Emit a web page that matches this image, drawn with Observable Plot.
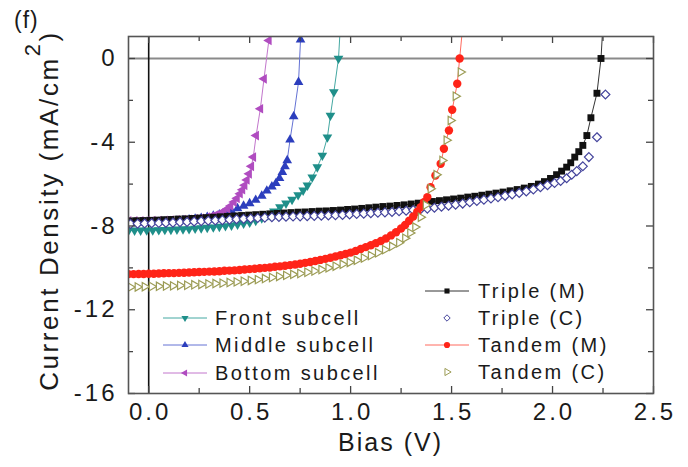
<!DOCTYPE html>
<html><head><meta charset="utf-8">
<script src="https://cdn.jsdelivr.net/npm/d3@7"></script>
<script src="https://cdn.jsdelivr.net/npm/@observablehq/plot@0.6"></script>
<style>
html,body{margin:0;padding:0;background:#fff;}
#chart{position:relative;width:688px;height:467px;}
</style></head><body><div id="chart"></div>
<script>
// ---------- data ----------
const xMajor = [0, 0.5, 1.0, 1.5, 2.0, 2.5];
const xMinor = [0.25, 0.75, 1.25, 1.75, 2.25];
const yMajor = [0, -4, -8, -12, -16];
const yMinor = [-2, -6, -10, -14];

const frontV = [-0.10,-0.07,-0.04,-0.01,0.02,0.05,0.08,0.11,0.14,0.17,0.20,0.23,0.26,0.29,0.32,0.35,0.38,0.41,0.44,0.47,0.50,0.53,0.56,0.59,0.62,0.65,0.68,0.71,0.74,0.765,0.786,0.81,0.835,0.86,0.885,0.90,0.917,0.94,0.955];
const frontJ = [-8.22,-8.21,-8.21,-8.20,-8.20,-8.19,-8.18,-8.17,-8.16,-8.15,-8.14,-8.12,-8.10,-8.08,-8.06,-8.03,-8.00,-7.97,-7.93,-7.88,-7.83,-7.74,-7.62,-7.48,-7.30,-7.10,-6.92,-6.74,-6.52,-6.30,-6.06,-5.67,-5.19,-4.63,-3.76,-2.72,-1.60,0.00,2.50];

const middleV = [-0.10,-0.07,-0.04,-0.01,0.02,0.05,0.08,0.11,0.14,0.17,0.20,0.23,0.26,0.29,0.32,0.35,0.38,0.41,0.44,0.47,0.50,0.53,0.56,0.585,0.61,0.63,0.648,0.662,0.675,0.686,0.70,0.718,0.742,0.752,0.762];
const middleJ = [-7.86,-7.85,-7.84,-7.83,-7.82,-7.81,-7.80,-7.78,-7.76,-7.73,-7.70,-7.66,-7.62,-7.57,-7.51,-7.45,-7.38,-7.28,-7.16,-7.04,-6.92,-6.76,-6.56,-6.32,-6.12,-5.96,-5.72,-5.43,-5.16,-4.87,-3.88,-2.77,-1.13,0.90,2.50];

const bottomV = [-0.10,-0.07,-0.04,-0.01,0.02,0.05,0.08,0.11,0.14,0.17,0.20,0.23,0.26,0.29,0.31,0.33,0.355,0.372,0.39,0.405,0.422,0.437,0.452,0.464,0.475,0.486,0.497,0.508,0.518,0.532,0.553,0.571,0.595,0.61];
const bottomJ = [-7.76,-7.76,-7.75,-7.75,-7.74,-7.74,-7.73,-7.72,-7.71,-7.70,-7.68,-7.66,-7.63,-7.58,-7.54,-7.48,-7.39,-7.30,-7.18,-7.04,-6.86,-6.68,-6.46,-6.27,-6.06,-5.80,-5.51,-5.15,-4.71,-3.68,-2.40,-0.97,0.86,2.50];

const tripleMV = [-0.100,-0.065,-0.030,0.005,0.040,0.075,0.110,0.145,0.180,0.215,
  0.250,0.285,0.320,0.355,0.390,0.425,0.460,0.495,0.530,0.565,
  0.600,0.635,0.670,0.705,0.740,0.775,0.810,0.845,0.880,0.915,
  0.950,0.985,1.020,1.055,1.090,1.125,1.160,1.195,1.230,1.265,
  1.300,1.335,1.370,1.405,1.440,1.475,1.510,1.545,1.580,1.615,
  1.650,1.685,1.720,1.755,1.790,1.825,1.860,1.895,1.930,1.960,
  1.990,2.020,2.045,2.070,2.090,2.110,2.130,2.150,2.170,2.190,
  2.220,2.240,2.255];
const tripleMJ = [-7.76,-7.75,-7.74,-7.73,-7.72,-7.70,-7.69,-7.67,-7.66,-7.64,
  -7.62,-7.60,-7.58,-7.56,-7.54,-7.52,-7.50,-7.48,-7.46,-7.44,
  -7.42,-7.40,-7.38,-7.36,-7.34,-7.33,-7.31,-7.29,-7.28,-7.26,
  -7.24,-7.21,-7.19,-7.16,-7.13,-7.10,-7.07,-7.05,-7.02,-6.99,
  -6.95,-6.91,-6.87,-6.83,-6.79,-6.75,-6.71,-6.67,-6.62,-6.58,
  -6.53,-6.48,-6.43,-6.38,-6.32,-6.26,-6.19,-6.11,-6.00,-5.88,
  -5.73,-5.55,-5.38,-5.19,-4.98,-4.71,-4.45,-4.15,-3.68,-2.83,
  -1.66,0.00,2.50];

const tripleCV = [-0.090,-0.055,-0.020,0.015,0.050,0.085,0.120,0.155,0.190,0.225,
  0.260,0.295,0.330,0.365,0.400,0.435,0.470,0.505,0.540,0.575,
  0.610,0.645,0.680,0.715,0.750,0.785,0.820,0.855,0.890,0.925,
  0.960,0.995,1.030,1.065,1.100,1.135,1.170,1.205,1.240,1.275,
  1.310,1.345,1.380,1.415,1.450,1.485,1.520,1.555,1.590,1.625,
  1.660,1.695,1.730,1.765,1.800,1.835,1.870,1.905,1.940,1.975,
  2.010,2.040,2.070,2.095,2.120,2.150,2.180,2.220,2.262];
const tripleCJ = [-7.90,-7.89,-7.88,-7.87,-7.86,-7.85,-7.84,-7.82,-7.81,-7.79,
  -7.77,-7.75,-7.74,-7.72,-7.70,-7.68,-7.66,-7.64,-7.62,-7.60,
  -7.58,-7.57,-7.56,-7.55,-7.54,-7.53,-7.52,-7.51,-7.50,-7.49,
  -7.47,-7.45,-7.43,-7.41,-7.39,-7.37,-7.35,-7.33,-7.30,-7.27,
  -7.24,-7.21,-7.17,-7.13,-7.08,-7.03,-6.98,-6.93,-6.87,-6.81,
  -6.75,-6.69,-6.63,-6.56,-6.49,-6.42,-6.35,-6.26,-6.15,-6.05,
  -5.95,-5.85,-5.72,-5.55,-5.38,-5.15,-4.71,-3.76,-1.72];

const tandemMV = [-0.100,-0.075,-0.050,-0.025,0.000,0.025,0.050,0.075,0.100,0.125,
  0.150,0.175,0.200,0.225,0.250,0.275,0.300,0.325,0.350,0.375,
  0.400,0.425,0.450,0.475,0.500,0.525,0.550,0.575,0.600,0.625,
  0.650,0.675,0.700,0.725,0.750,0.775,0.800,0.825,0.850,0.875,
  0.900,0.925,0.950,0.975,1.000,1.025,1.050,1.075,1.100,1.125,
  1.150,1.175,1.200,1.225,1.250,1.270,1.290,1.310,1.330,1.347,
  1.363,1.380,1.396,1.420,1.446,1.462,1.487,1.503,1.528,1.540,1.565];
const tandemMJ = [-10.30,-10.30,-10.29,-10.29,-10.28,-10.28,-10.27,-10.26,-10.25,-10.25,
  -10.24,-10.23,-10.22,-10.21,-10.20,-10.19,-10.18,-10.17,-10.16,-10.14,
  -10.13,-10.12,-10.10,-10.08,-10.06,-10.04,-10.02,-10.00,-9.98,-9.95,
  -9.93,-9.90,-9.87,-9.84,-9.80,-9.76,-9.72,-9.67,-9.62,-9.57,
  -9.52,-9.46,-9.40,-9.34,-9.27,-9.19,-9.10,-9.01,-8.92,-8.82,
  -8.72,-8.60,-8.45,-8.30,-8.12,-7.95,-7.75,-7.55,-7.32,-7.10,
  -6.86,-6.62,-6.15,-5.59,-5.03,-4.31,-3.44,-2.45,-1.21,0.00,2.50];

const tandemCV = [-0.090,-0.055,-0.020,0.015,0.050,0.085,0.120,0.155,0.190,0.225,
  0.260,0.295,0.330,0.365,0.400,0.435,0.470,0.505,0.540,0.575,
  0.610,0.645,0.680,0.715,0.750,0.785,0.820,0.855,0.890,0.925,
  0.960,0.995,1.030,1.065,1.100,1.135,1.170,1.205,1.240,1.270,
  1.295,1.320,1.347,1.372,1.396,1.425,1.454,1.475,1.495,1.520,1.545];
const tandemCJ = [-10.92,-10.91,-10.90,-10.89,-10.88,-10.87,-10.86,-10.84,-10.83,-10.81,
  -10.79,-10.77,-10.75,-10.73,-10.70,-10.67,-10.64,-10.60,-10.56,-10.51,
  -10.46,-10.41,-10.36,-10.31,-10.27,-10.21,-10.15,-10.08,-10.00,-9.92,
  -9.83,-9.74,-9.64,-9.53,-9.41,-9.28,-9.13,-8.97,-8.80,-8.58,
  -8.33,-8.05,-7.58,-7.00,-6.22,-5.55,-4.87,-3.90,-2.96,-1.80,-0.65];

// ---------- symbols ----------
const sqrt3 = Math.sqrt(3);
function triangle(angle) {
  return {draw(ctx, size) {
    const y = -Math.sqrt(size / (sqrt3 * 3));
    const p = [[0, y * 2], [-sqrt3 * y, -y], [sqrt3 * y, -y]];
    const c = Math.cos(angle), s = Math.sin(angle);
    p.forEach(([a, b], i) => {
      const X = a * c - b * s, Y = a * s + b * c;
      if (i) ctx.lineTo(X, Y); else ctx.moveTo(X, Y);
    });
    ctx.closePath();
  }};
}
const triUp = triangle(0), triDown = triangle(Math.PI),
      triLeft = triangle(-Math.PI / 2), triRight = triangle(Math.PI / 2);

const rows = (V, J) => V.map((v, i) => ({v, j: J[i]})).filter(d => d.j !== undefined);

const series = [
  {name: "Front subcell", data: rows(frontV, frontJ), line: "#45a8a2", fill: "#1f8f8a", stroke: "none", symbol: triDown, r: 3.6, lsize: 22},
  {name: "Middle subcell", data: rows(middleV, middleJ), line: "#6472d4", fill: "#2c3ebd", stroke: "none", symbol: triUp, r: 3.6, lsize: 22},
  {name: "Bottom subcell", data: rows(bottomV, bottomJ), line: "#c276cc", fill: "#b04cc0", stroke: "none", symbol: triLeft, r: 3.6, lsize: 22},
  {name: "Triple (M)", data: rows(tripleMV, tripleMJ), line: "#333333", fill: "#111111", stroke: "none", symbol: "square", r: 3.9, lsize: 26},
  {name: "Triple (C)", data: rows(tripleCV, tripleCJ), line: null, fill: "white", stroke: "#44449c", symbol: "diamond2", r: 4, lsize: 26},
  {name: "Tandem (M)", data: rows(tandemMV, tandemMJ), line: "#ff6a5e", fill: "#ff2418", stroke: "none", symbol: "circle", r: 4.2, lsize: 30},
  {name: "Tandem (C)", data: rows(tandemCV, tandemCJ), line: null, fill: "white", stroke: "#9c9c55", symbol: triRight, r: 3.1, lsize: 22}
];

// ---------- plot ----------
const W = 688, H = 467, mL = 128, mR = 35, mT = 36, mB = 74;
const iw = W - mL - mR, ih = H - mT - mB;
const tickStyle = {stroke: "#444", strokeWidth: 1.3};

const marks = [
  Plot.ruleY([0], {stroke: "#8a8a8a", strokeWidth: 2.2}),
  Plot.ruleX([0], {stroke: "#111", strokeWidth: 1.6})
];
for (const s of series) {
  if (s.line) marks.push(Plot.line(s.data, {x: "v", y: "j", stroke: s.line, strokeWidth: 1, clip: true}));
}
for (const s of series) {
  marks.push(Plot.dot(s.data, {x: "v", y: "j", symbol: s.symbol, r: s.r, fill: s.fill,
    stroke: s.stroke, strokeWidth: s.stroke === "none" ? 0 : 1.2, clip: true}));
}
marks.push(
  Plot.tickX(xMajor, {x: d => d, insetTop: ih - 7, ...tickStyle}),
  Plot.tickX(xMinor, {x: d => d, insetTop: ih - 5, ...tickStyle}),
  Plot.tickX(xMajor, {x: d => d, insetBottom: ih - 7, ...tickStyle}),
  Plot.tickX(xMinor, {x: d => d, insetBottom: ih - 5, ...tickStyle}),
  Plot.tickY(yMajor, {y: d => d, insetRight: iw - 7, ...tickStyle}),
  Plot.tickY(yMinor, {y: d => d, insetRight: iw - 5, ...tickStyle}),
  Plot.tickY(yMajor, {y: d => d, insetLeft: iw - 7, ...tickStyle}),
  Plot.tickY(yMinor, {y: d => d, insetLeft: iw - 5, ...tickStyle}),
  Plot.frame({stroke: "#555", strokeWidth: 1.6}),
  Plot.axisX({ticks: xMajor, tickSize: 0, tickPadding: 9, tickFormat: d3.format(".1f"), dx: 1.5}),
  Plot.axisY({ticks: yMajor, tickSize: 0, tickPadding: 11, tickFormat: d => String(d)})
);

const chart = Plot.plot({
  width: W, height: H,
  marginLeft: mL, marginRight: mR, marginTop: mT, marginBottom: mB,
  x: {domain: [-0.1, 2.5], label: null},
  y: {domain: [-16, 1.05], label: null},
  style: {fontFamily: "'Liberation Sans', Arial, sans-serif", fontSize: "24px", letterSpacing: "3px", color: "#1a1a1a", background: "white", overflow: "visible"},
  marks
});
document.getElementById("chart").appendChild(chart);

// ---------- annotations & legend ----------
const svg = d3.select(chart);
svg.append("text").attr("x", 14).attr("y", 28).attr("text-anchor", "start").attr("font-size", 23)
  .attr("letter-spacing", "1px").attr("fill", "#1a1a1a").text("(f)");
svg.append("text").attr("x", mL + iw / 2).attr("y", 451).attr("text-anchor", "middle")
  .attr("font-size", 25).attr("letter-spacing", "2px").attr("fill", "#1a1a1a").text("Bias (V)");
const yl = svg.append("text").attr("transform", `translate(58,${mT + ih / 2 - 4}) rotate(-90)`)
  .attr("text-anchor", "middle").attr("font-size", 26).attr("letter-spacing", "2.6px").attr("fill", "#1a1a1a");
yl.append("tspan").text("Current Density (mA/cm");
yl.append("tspan").attr("dy", -18).attr("font-size", 22).text("2");
yl.append("tspan").attr("dy", 18).text(")");

const legendLayout = [
  {idx: 0, lx: 163, mx: 185, tx: 215, y: 318},
  {idx: 1, lx: 163, mx: 185, tx: 215, y: 345},
  {idx: 2, lx: 163, mx: 185, tx: 215, y: 373},
  {idx: 3, lx: 425, mx: 447, tx: 478, y: 291},
  {idx: 4, lx: 425, mx: 447, tx: 478, y: 318},
  {idx: 5, lx: 425, mx: 447, tx: 478, y: 345},
  {idx: 6, lx: 425, mx: 447, tx: 478, y: 372}
];
const symMap = {square: d3.symbolSquare, circle: d3.symbolCircle, diamond2: d3.symbolDiamond2};
const lg = svg.append("g").attr("text-anchor", "start");
for (const e of legendLayout) {
  const s = series[e.idx];
  if (s.line) lg.append("line").attr("x1", e.lx).attr("x2", e.lx + 44).attr("y1", e.y).attr("y2", e.y)
    .attr("stroke", s.line).attr("stroke-width", 1);
  const type = typeof s.symbol === "string" ? symMap[s.symbol] : s.symbol;
  lg.append("path").attr("d", d3.symbol().type(type).size(s.lsize)())
    .attr("transform", `translate(${e.mx},${e.y})`)
    .attr("fill", s.fill).attr("stroke", s.stroke).attr("stroke-width", s.stroke === "none" ? 0 : 1);
  lg.append("text").attr("x", e.tx).attr("y", e.y).attr("dy", "0.36em").attr("text-anchor", "start")
    .attr("font-size", 20).attr("letter-spacing", "2.4px").attr("fill", "#1a1a1a").text(s.name);
}
</script></body></html>
